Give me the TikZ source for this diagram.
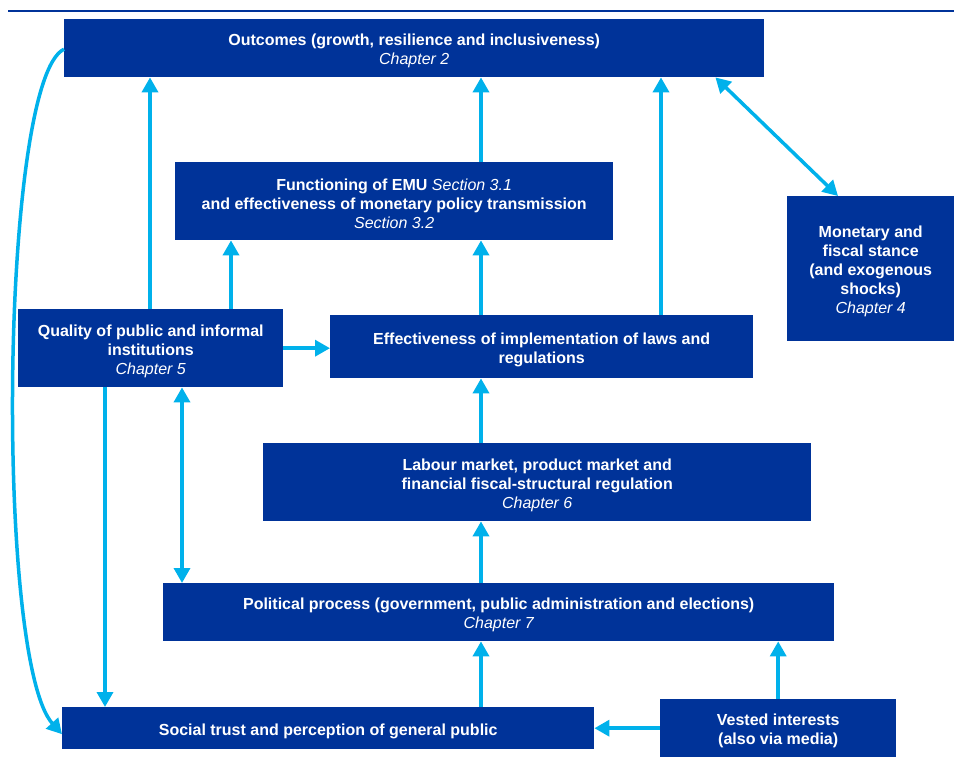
\documentclass[tikz,border=0pt]{standalone}
\usepackage{fontspec}
\setmainfont{Liberation Sans}
\usetikzlibrary{arrows.meta,positioning,calc}
\definecolor{ecbblue}{RGB}{0,51,153}
\definecolor{ecbcyan}{RGB}{0,177,235}
\newcommand{\chapref}[1]{{\mdseries\itshape #1}}
\newcommand{\topstrut}{\rule{0pt}{17pt}}

\begin{document}
\begin{tikzpicture}[x=1pt, y=-1pt,
  box/.style={fill=ecbblue, text=white, anchor=north west, inner sep=0pt,
    align=center, font=\bfseries\fontsize{16}{19}\selectfont},
  arr/.style={color=ecbcyan, line width=3.5pt,
    >={Triangle[width=16pt,length=15pt]}, ->}]

  \useasboundingbox (0,0) rectangle (954,767);

  % Rule at the top
  \draw[ecbblue, line width=2pt] (8,11) -- (954,11);

  % Boxes
  \node[box, minimum width=700pt, minimum height=58pt] (outc) at (64,19)
    {\topstrut Outcomes (growth, resilience and inclusiveness)\\\chapref{Chapter 2}};
  \node[box, minimum width=438pt, minimum height=78pt] (emu) at (175,162)
    {\topstrut Functioning of EMU \chapref{Section 3.1}\\and effectiveness of monetary policy transmission\\\chapref{Section 3.2}};
  \node[box, minimum width=167pt, minimum height=145pt] (mon) at (787,196)
    {\topstrut Monetary and\\fiscal stance\\(and exogenous\\shocks)\\\chapref{Chapter 4}};
  \node[box, minimum width=265pt, minimum height=78pt] (qual) at (18,309)
    {\topstrut Quality of public and informal\\institutions\\\chapref{Chapter 5}};
  \node[box, minimum width=423pt, minimum height=63pt] (eff) at (330,315)
    {\topstrut Effectiveness of implementation of laws and\\regulations};
  \node[box, minimum width=548pt, minimum height=78pt] (lab) at (263,443)
    {\topstrut Labour market, product market and\\financial fiscal-structural regulation\\\chapref{Chapter 6}};
  \node[box, minimum width=671pt, minimum height=58pt] (pol) at (163,583)
    {\topstrut Political process (government, public administration and elections)\\\chapref{Chapter 7}};
  \node[box, minimum width=532pt, minimum height=42pt] (soc) at (62,707)
    {\topstrut Social trust and perception of general public};
  \node[box, minimum width=236pt, minimum height=58pt] (vest) at (660,699)
    {\topstrut Vested interests\\(also via media)};

  % Feet of the vertical arrows
  \coordinate (qo) at ([xshift=132pt]qual.north west);
  \coordinate (qe) at ([xshift=213pt]qual.north west);
  \coordinate (eo) at ([xshift=306pt]emu.north west);
  \coordinate (fe) at ([xshift=151pt]eff.north west);
  \coordinate (fo) at ([xshift=331pt]eff.north west);
  \coordinate (lf) at ([xshift=218pt]lab.north west);
  \coordinate (pl) at ([xshift=318pt]pol.north west);
  \coordinate (qp) at ([xshift=164pt]qual.south west);
  \coordinate (qs) at ([xshift=87pt]qual.south west);
  \coordinate (sp) at ([xshift=419pt]soc.north west);
  \coordinate (om) at ([xshift=-49pt]outc.south east);
  \coordinate (mo) at ([xshift=51pt]mon.north west);

  % Arrows
  \path[arr]
    (qo) edge (qo |- outc.south)
    (qe) edge (qe |- emu.south)
    (eo) edge (eo |- outc.south)
    (fe) edge (fe |- emu.south)
    (fo) edge (fo |- outc.south)
    (lf) edge (lf |- eff.south)
    (pl) edge (pl |- lab.south)
    (sp) edge (sp |- pol.south)
    (vest.north) edge (vest.north |- pol.south)
    (qual.east) edge (qual.east -| eff.west)
    (vest) edge (soc)
    (qs) edge (qs |- soc.north)
    (qp) edge[<->] (qp |- pol.north)
    (om) edge[<->] (mo);

  % Long way round on the left
  \draw[arr] ([yshift=-1pt]outc.west) .. controls (0,80) and (-5,660) .. ([yshift=-6pt]soc.west);

\end{tikzpicture}
\end{document}
